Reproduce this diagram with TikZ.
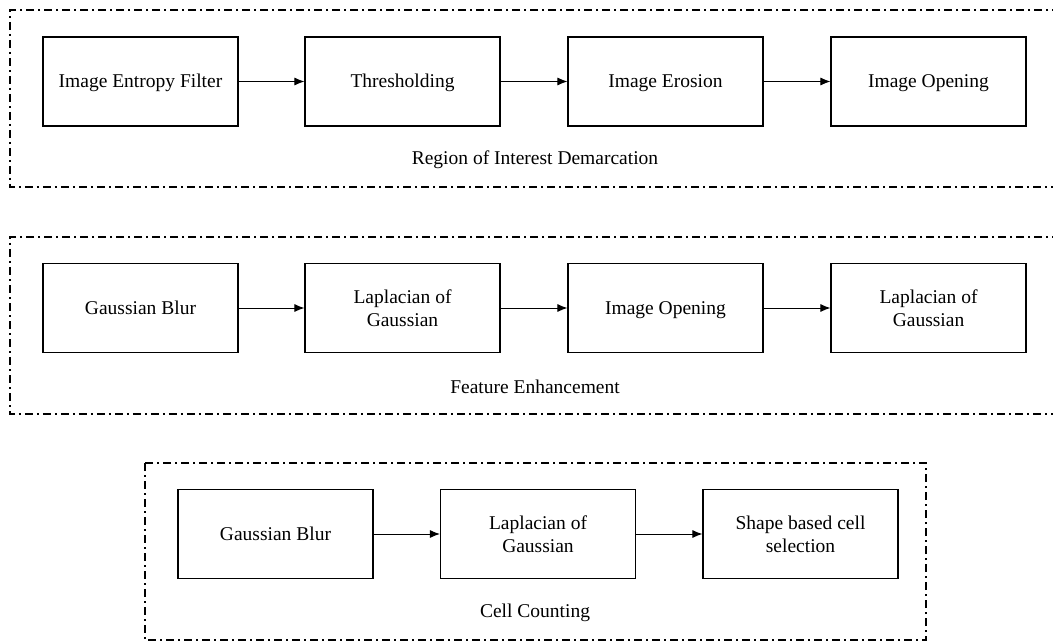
\documentclass[tikz,border=0pt]{standalone}
\usepackage{fontspec}
\setmainfont{Liberation Serif}
\usetikzlibrary{arrows.meta}
\begin{document}
\begin{tikzpicture}[x=1pt,y=-1pt,
  stepbox/.style={draw, line width=1.1pt, minimum width=195pt, minimum height=89pt,
    align=center, font=\fontsize{19.5}{23}\selectfont, inner sep=0pt},
  oneline/.style={text height=15pt, text depth=2pt},
  frame/.style={draw, line width=2.2pt, dash pattern=on 8pt off 4pt on 2pt off 4pt},
  flow/.style={-{Latex[length=10pt,width=8pt]}, line width=1pt},
  caption/.style={font=\fontsize{19.5}{23}\selectfont}]
\useasboundingbox (0,0) rectangle (1053,642);
% frames
\draw[frame] (1060,10) -- (10,10) -- (10,187) -- (1060,187);
\draw[frame] (1060,237) -- (10,237) -- (10,414) -- (1060,414);
\draw[frame] (145,463) rectangle (926,640);
% Region of interest demarcation
\node[stepbox,oneline] (a1) at (140.5,81.5) {Image Entropy Filter};
\node[stepbox,oneline] (a2) at (402.5,81.5) {Thresholding};
\node[stepbox,oneline] (a3) at (665.5,81.5) {Image Erosion};
\node[stepbox,oneline] (a4) at (928.5,81.5) {Image Opening};
\node[caption] (ca) at (535,160) {Region of Interest Demarcation};
\draw[flow] (a1) -- (a2);
\draw[flow] (a2) -- (a3);
\draw[flow] (a3) -- (a4);
% Feature enhancement
\node[stepbox,oneline] (b1) at (140.5,308) {Gaussian Blur};
\node[stepbox] (b2) at (402.5,308) {Laplacian of\\Gaussian};
\node[stepbox,oneline] (b3) at (665.5,308) {Image Opening};
\node[stepbox] (b4) at (928.5,308) {Laplacian of\\Gaussian};
\node[caption] (cb) at (535,387) {Feature Enhancement};
\draw[flow] (b1) -- (b2);
\draw[flow] (b2) -- (b3);
\draw[flow] (b3) -- (b4);
% Cell counting
\node[stepbox,oneline] (c1) at (275.5,534) {Gaussian Blur};
\node[stepbox] (c2) at (538,534) {Laplacian of\\Gaussian};
\node[stepbox] (c3) at (800.5,534) {Shape based cell\\selection};
\node[caption] (cc) at (535,613) {Cell Counting};
\draw[flow] (c1) -- (c2);
\draw[flow] (c2) -- (c3);
\end{tikzpicture}
\end{document}
